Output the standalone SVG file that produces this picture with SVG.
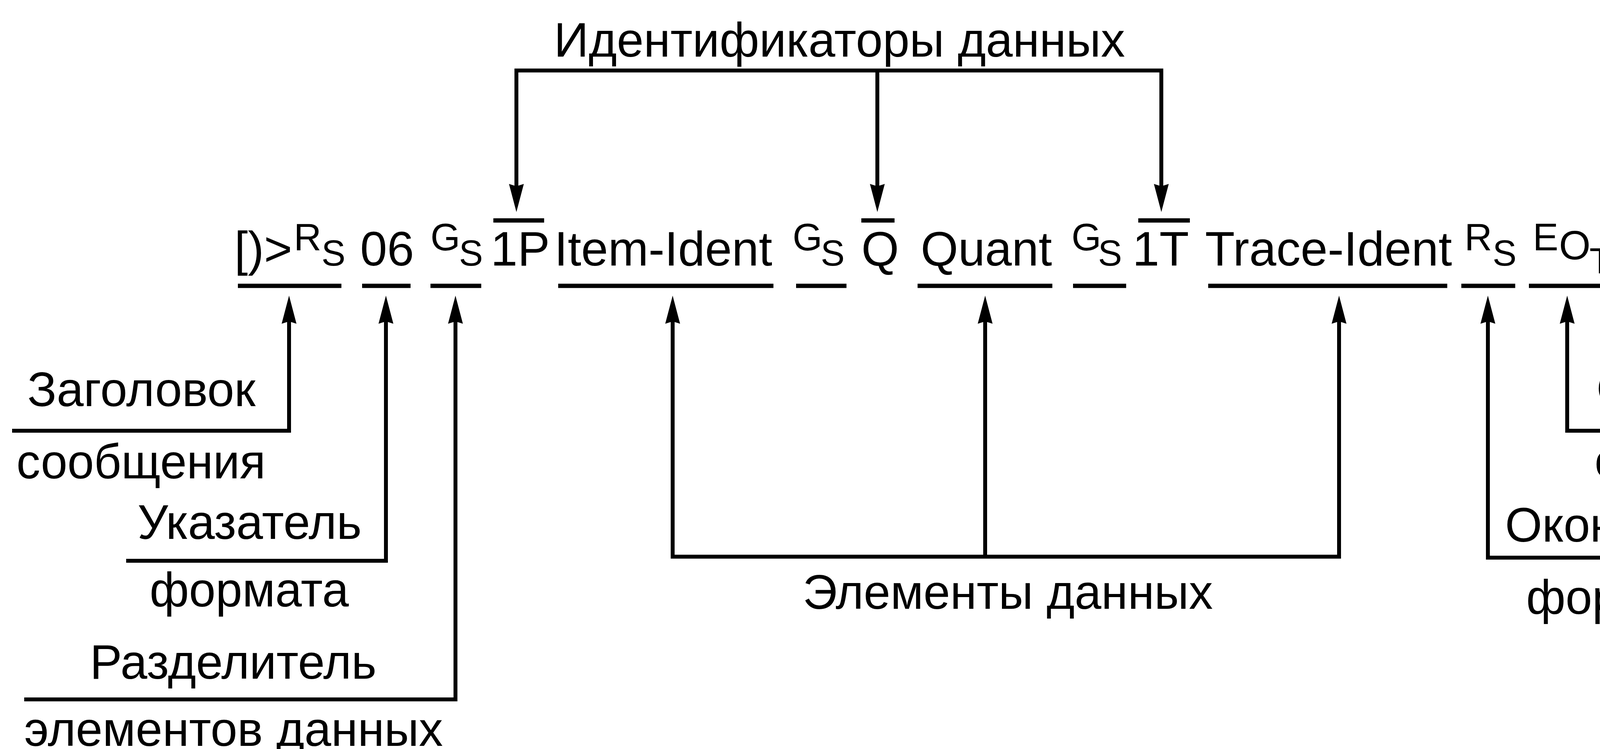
<svg xmlns="http://www.w3.org/2000/svg" width="4721" height="1918" viewBox="0 0 4721 1918">
<style>
text{font-family:"Liberation Sans",Arial,sans-serif;fill:#000}
.m{font-size:124px}
.sup{font-size:98px}
.sub{font-size:92px}
.l{font-size:124px}
.bar{stroke:#000;stroke-width:11;fill:none}
.c{stroke:#000;stroke-width:10;fill:none;stroke-linejoin:miter;stroke-linecap:butt}
.a{marker-end:url(#ah)}
</style>
<defs>
<marker id="ah" markerUnits="userSpaceOnUse" viewBox="0 0 72 38" refX="6" refY="19" markerWidth="72" markerHeight="38" orient="auto">
<path d="M72,19 L0,0 L6,19 L0,38 Z" fill="#000"/>
</marker>
</defs>
<rect width="4721" height="1918" fill="#fff"/>

<g id="title">
<text class="l" x="1418" y="145" textLength="1462" lengthAdjust="spacingAndGlyphs">Идентификаторы данных</text>
</g>

<g id="header">
<text class="m" x="600" y="680">[)&gt;</text>
<text class="sup" x="752" y="641">R</text>
<text class="sub" x="823" y="680">S</text>
<line class="bar" x1="609" y1="732" x2="874" y2="732"/>
</g>
<g id="format06">
<text class="m" x="922" y="680">06</text>
<line class="bar" x1="927" y1="732" x2="1051" y2="732"/>
</g>
<g id="gs1">
<text class="sup" x="1102" y="641">G</text>
<text class="sub" x="1175" y="680">S</text>
<line class="bar" x1="1102" y1="732" x2="1232" y2="732"/>
</g>
<g id="id1P">
<text class="m" x="1256" y="680">1P</text>
<line class="bar" x1="1263" y1="564.5" x2="1393" y2="564.5"/>
</g>
<g id="item-ident">
<text class="m" x="1419" y="680" textLength="558" lengthAdjust="spacingAndGlyphs">Item-Ident</text>
<line class="bar" x1="1429" y1="732" x2="1980" y2="732"/>
</g>
<g id="gs2">
<text class="sup" x="2029" y="641">G</text>
<text class="sub" x="2101" y="680">S</text>
<line class="bar" x1="2038" y1="732" x2="2167" y2="732"/>
</g>
<g id="idQ">
<text class="m" x="2205" y="680">Q</text>
<line class="bar" x1="2205" y1="564.5" x2="2290" y2="564.5"/>
</g>
<g id="quant">
<text class="m" x="2357" y="680" textLength="336" lengthAdjust="spacingAndGlyphs">Quant</text>
<line class="bar" x1="2349" y1="732" x2="2694" y2="732"/>
</g>
<g id="gs3">
<text class="sup" x="2743" y="641">G</text>
<text class="sub" x="2811" y="680">S</text>
<line class="bar" x1="2747" y1="732" x2="2883" y2="732"/>
</g>
<g id="id1T">
<text class="m" x="2899" y="680">1T</text>
<line class="bar" x1="2914" y1="564.5" x2="3046" y2="564.5"/>
</g>
<g id="trace-ident">
<text class="m" x="3085" y="680" textLength="632" lengthAdjust="spacingAndGlyphs">Trace-Ident</text>
<line class="bar" x1="3093" y1="732" x2="3705" y2="732"/>
</g>
<g id="rs2">
<text class="sup" x="3749" y="641">R</text>
<text class="sub" x="3821" y="680">S</text>
<line class="bar" x1="3741" y1="732" x2="3879" y2="732"/>
</g>
<g id="eot">
<text class="sup" x="3924" y="641">E</text>
<text style="font-size:104px" x="3991" y="664">O</text>
<text style="font-size:93px" x="4069" y="700">T</text>
<line class="bar" x1="3914" y1="732" x2="4111" y2="732"/>
</g>

<g id="lbl-header">
<text class="l" x="70" y="1040" textLength="584" lengthAdjust="spacingAndGlyphs">Заголовок</text>
<text class="l" x="42" y="1225" textLength="638" lengthAdjust="spacingAndGlyphs">сообщения</text>
</g>
<g id="lbl-format">
<text class="l" x="352" y="1380" textLength="574" lengthAdjust="spacingAndGlyphs">Указатель</text>
<text class="l" x="383" y="1553" textLength="510" lengthAdjust="spacingAndGlyphs">формата</text>
</g>
<g id="lbl-separator">
<text class="l" x="230" y="1738" textLength="734" lengthAdjust="spacingAndGlyphs">Разделитель</text>
<text class="l" x="62" y="1910" textLength="1072" lengthAdjust="spacingAndGlyphs">элементов данных</text>
</g>
<g id="lbl-elements">
<text class="l" x="2055" y="1559" textLength="1050" lengthAdjust="spacingAndGlyphs">Элементы данных</text>
</g>
<g id="lbl-format-end">
<text class="l" x="3853" y="1387" textLength="620" lengthAdjust="spacingAndGlyphs">Окончание</text>
<text class="l" x="3907" y="1572" textLength="510" lengthAdjust="spacingAndGlyphs">формата</text>
</g>
<g id="lbl-message-end">
<text class="l" x="4087" y="1038" textLength="624" lengthAdjust="spacingAndGlyphs">Окончание</text>
<text class="l" x="4082" y="1222" textLength="634" lengthAdjust="spacingAndGlyphs">сообщения</text>
</g>

<g id="connectors">
<path class="c" d="M1317,180.5 H2978"/>
<path class="c a" d="M1322,180 V477"/>
<path class="c a" d="M2246,180 V477"/>
<path class="c a" d="M2973,180 V477"/>

<path class="c a" d="M31,1103 H740 V823"/>
<path class="c a" d="M323,1436 H988 V823"/>
<path class="c a" d="M62,1791 H1166 V823"/>

<path class="c" d="M1717,1425.5 H3433"/>
<path class="c a" d="M1722,1426 V823"/>
<path class="c a" d="M2522,1426 V823"/>
<path class="c a" d="M3428,1426 V823"/>

<path class="c a" d="M4721,1103 H4012 V823"/>
<path class="c a" d="M4511,1428 H3809 V823"/>
</g>
</svg>
